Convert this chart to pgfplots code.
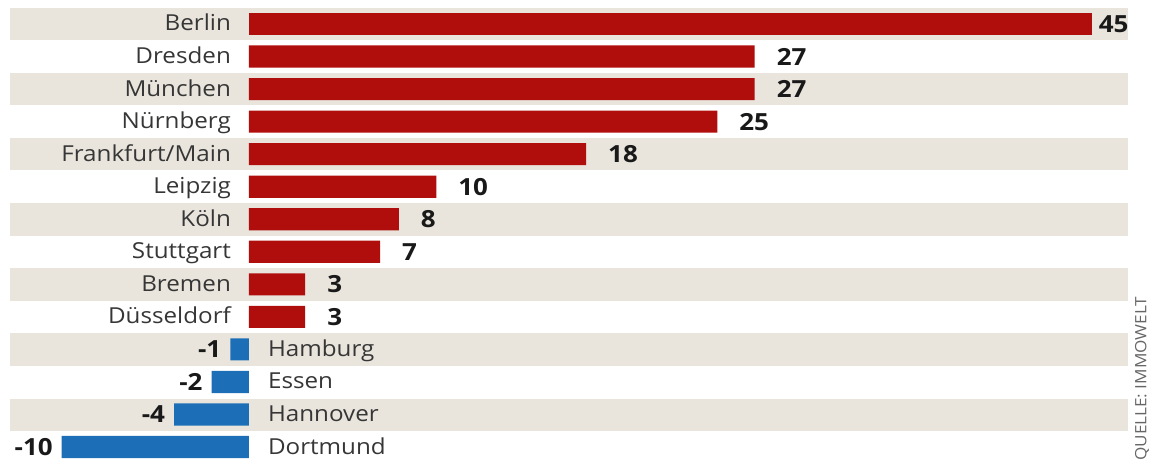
\documentclass[border=0pt]{standalone}
\usepackage{pgfplots}
\pgfplotsset{compat=1.18}
\usepackage{fontspec}
\setmainfont{Open Sans}[FakeStretch=1.1]
\definecolor{barred}{HTML}{B00D0D}
\definecolor{barblue}{HTML}{1C6FB6}
\definecolor{stripe}{HTML}{E9E5DD}
\definecolor{txt}{HTML}{363636}
\begin{document}
\begin{tikzpicture}
\begin{axis}[
  scale only axis, width=577pt, height=235pt,
  xmin=-13.294, xmax=48.318, ymin=-0.7376, ymax=13.706, y dir=reverse,
  hide axis, clip=false,
  xbar, bar width=0.68, bar shift=0pt,
  nodes near coords, nodes near coords align=horizontal,
  /pgf/number format/assume math mode=true,
  every node near coord/.append style={font=\bfseries\fontsize{11.8}{12}\selectfont, text=black!90},
]
\coordinate (bbA) at (axis cs:-13.294,-0.7376);
\coordinate (bbB) at (axis cs:48.318,13.706);
\pgfplotsinvokeforeach{0,2,4,6,8,10,12}{
  \fill[stripe] (axis cs:-12.76,#1-0.49) rectangle (axis cs:46.93,#1+0.5);
}
\addplot[fill=barred, draw=none, every node near coord/.append style={xshift=0pt}] coordinates {
 (45,0)};
\addplot[fill=barred, draw=none, every node near coord/.append style={xshift=7.5pt}] coordinates {
 (27,1) (27,2) (25,3) (18,4) (10,5) (8,6) (7,7) (3,8) (3,9)};
\addplot[fill=barblue, draw=none, every node near coord/.append style={xshift=-1pt}] coordinates {
 (-1,10) (-2,11) (-4,12) (-10,13)};
\tikzset{catlab/.style={font=\fontsize{11}{12}\selectfont, text=txt}}
\node[catlab, anchor=mid east] at (axis cs:-0.59,0.05) {Berlin};
\node[catlab, anchor=mid east] at (axis cs:-0.59,1.05) {Dresden};
\node[catlab, anchor=mid east] at (axis cs:-0.59,2.05) {München};
\node[catlab, anchor=mid east] at (axis cs:-0.59,3.05) {Nürnberg};
\node[catlab, anchor=mid east] at (axis cs:-0.59,4.05) {Frankfurt/Main};
\node[catlab, anchor=mid east] at (axis cs:-0.59,5.05) {Leipzig};
\node[catlab, anchor=mid east] at (axis cs:-0.59,6.05) {Köln};
\node[catlab, anchor=mid east] at (axis cs:-0.59,7.05) {Stuttgart};
\node[catlab, anchor=mid east] at (axis cs:-0.59,8.05) {Bremen};
\node[catlab, anchor=mid east] at (axis cs:-0.59,9.05) {Düsseldorf};
\node[catlab, anchor=mid west] at (axis cs:0.64,10.05) {Hamburg};
\node[catlab, anchor=mid west] at (axis cs:0.64,11.05) {Essen};
\node[catlab, anchor=mid west] at (axis cs:0.64,12.05) {Hannover};
\node[catlab, anchor=mid west] at (axis cs:0.64,13.05) {Dortmund};
\node[rotate=90, font=\fontsize{7.8}{8}\selectfont, text=black!60] at (axis cs:47.68,10.9) {QUELLE: IMMOWELT};
\end{axis}
\pgfresetboundingbox
\path[use as bounding box] (bbA) rectangle (bbB);
\end{tikzpicture}
\end{document}
